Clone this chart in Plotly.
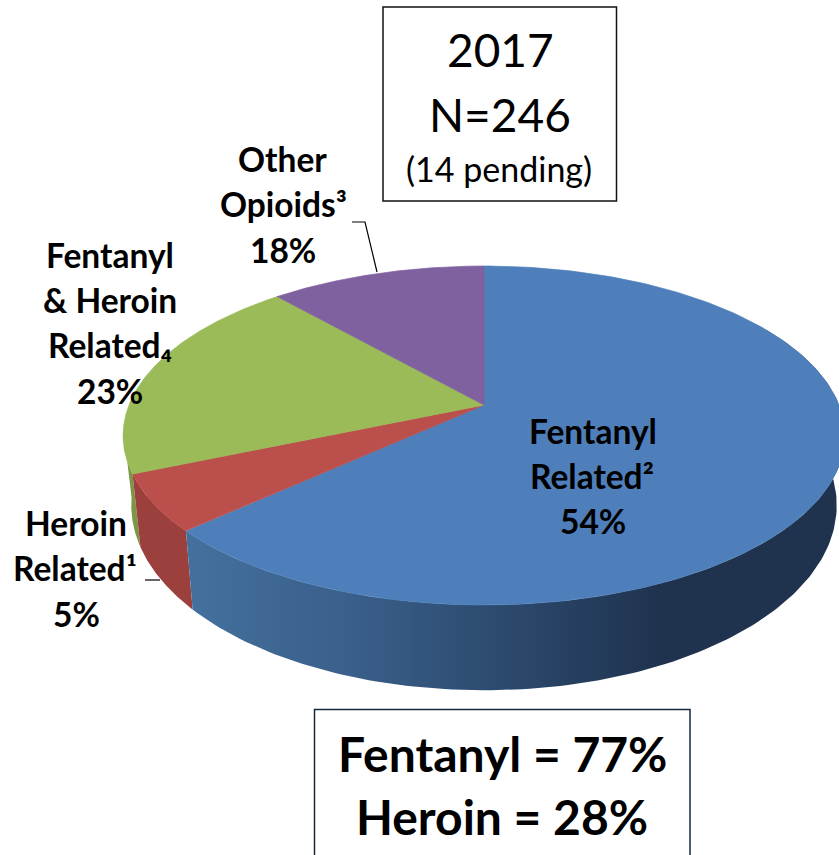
import numpy as np
import plotly.graph_objects as go

# Data
slice_names = ["Fentanyl Related", "Heroin Related", "Fentanyl & Heroin Related", "Other Opioids"]
drawn_shares = [63.2, 5.4, 19.9, 11.5]   # angular share as drawn
top_colors = ["#4e7fba", "#bb4f4c", "#9bbb59", "#7f61a0"]
side_colors = ["#3f6a9c", "#9c403e", "#7b9645", "#5f4a80"]

# Projection of the tilted disc
CX, CY, A_TOP, B_TOP = 484, 405, 355, 164
Y_BASE, A_BASE, B_BASE = 472, 347, 179
PERSP = 0.18


def rim(theta_deg, a, b, y0):
    t = np.radians(theta_deg)
    u, v = np.sin(t), np.cos(t)
    w = 1 + PERSP * v
    return CX + a * u / w, y0 - b * v / w


edges = np.concatenate([[0], np.cumsum(drawn_shares)]) / sum(drawn_shares) * 360
fig = go.Figure()


def wall(t0, t1, **kw):
    th = np.linspace(t0, t1, 160)
    x1, y1 = rim(th, A_TOP, B_TOP, CY)
    x2, y2 = rim(th[::-1], A_BASE, B_BASE, Y_BASE)
    fig.add_trace(go.Scatter(x=np.r_[x1, x2], y=np.r_[y1, y2], mode="lines", fill="toself",
                             line=dict(width=0), hoverinfo="skip", **kw))


# side walls (only the parts facing the viewer)
wall(edges[2], 262, fillcolor=side_colors[2])
wall(edges[1], edges[2], fillcolor=side_colors[1])
wall(60, edges[1], fillgradient=dict(type="horizontal",
     colorscale=[[0, "#44709f"], [0.25, "#3a5f8a"], [0.5, "#2b486c"], [0.72, "#1f334e"], [1, "#1f334e"]]))

# top face
for i, name in enumerate(slice_names):
    th = np.linspace(edges[i], edges[i + 1], 200)
    x, y = rim(th, A_TOP, B_TOP, CY)
    fig.add_trace(go.Scatter(x=np.r_[CX, x, CX], y=np.r_[CY, y, CY], mode="lines", fill="toself",
                             fillcolor=top_colors[i], line=dict(width=0.7, color=top_colors[i]),
                             name=name, hoverinfo="name"))

FONT = "Lato"
anns = []


def text(x, y, s, size, bold=True):
    anns.append(dict(x=x, y=y, xref="x", yref="y", text=f"<b>{s}</b>" if bold else s, showarrow=False,
                     xanchor="center", yanchor="middle", font=dict(family=FONT, size=size, color="#000000")))


label_lines = [
    (282, 159, "Other"), (283, 204, "Opioids³"), (283, 250, "18%"),
    (110, 255, "Fentanyl"), (110, 300, "&amp; Heroin"), (110, 345, "Related₄"), (110, 391, "23%"),
    (76, 523, "Heroin"), (75, 568, "Related¹"), (76, 614, "5%"),
    (593, 431, "Fentanyl"), (592, 476, "Related²"), (593, 521, "54%"),
]
for x, y, s in label_lines:
    text(x, y, s, 33.5)

text(500, 49, "2017", 46, False)
text(500, 114, "N=246", 46, False)
text(499, 168, "(14 pending)", 34, False)
text(502, 753, "Fentanyl = 77%", 48)
text(502, 816, "Heroin = 28%", 48)

shapes = [
    dict(type="rect", x0=383, x1=616.5, y0=7, y1=201, line=dict(color="#111111", width=1.5)),
    dict(type="rect", x0=314.5, x1=690, y0=709.5, y1=880, line=dict(color="#17283c", width=1.5)),
    dict(type="path", path="M352 222 L365 222 L377 272", line=dict(color="#000000", width=1.2)),
    dict(type="line", x0=145, x1=160, y0=580, y1=580, line=dict(color="#000000", width=1.2)),
]

fig.update_layout(
    width=839, height=855, margin=dict(l=0, r=0, t=0, b=0), showlegend=False,
    paper_bgcolor="white", plot_bgcolor="white", annotations=anns, shapes=shapes,
    xaxis=dict(range=[0, 839], visible=False, fixedrange=True),
    yaxis=dict(range=[855, 0], visible=False, fixedrange=True),
)
fig.write_html("out.html", config=dict(displayModeBar=False),
               post_script="document.body.style.margin='0';document.documentElement.style.overflow='hidden';")
